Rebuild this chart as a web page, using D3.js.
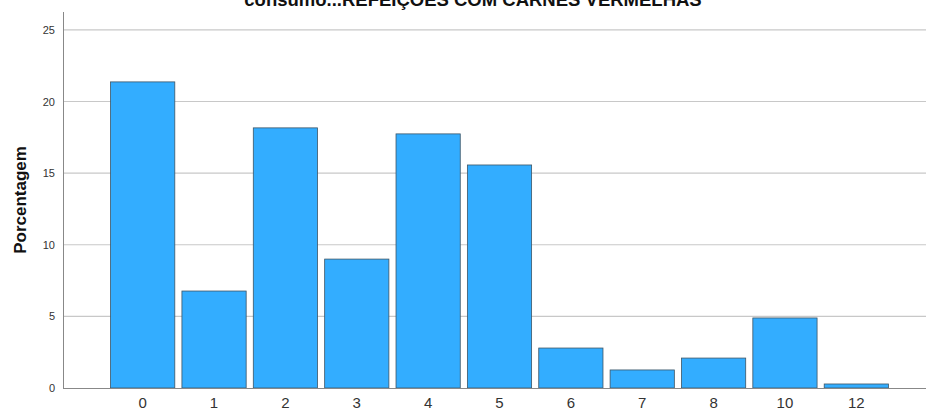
<!DOCTYPE html>
<html><head><meta charset="utf-8">
<script src="https://cdn.jsdelivr.net/npm/d3@7/dist/d3.min.js"></script>
<style>body{margin:0;background:#fff}svg{display:block}</style>
</head><body><svg id="c" width="926" height="414"></svg>
<script>
const categories = ["0","1","2","3","4","5","6","7","8","10","12"];
const percentages = [21.37, 6.77, 18.16, 9.0, 17.74, 15.57, 2.79, 1.26, 2.09, 4.89, 0.28];
const yTicks = [0, 5, 10, 15, 20, 25];
const titleText = "consumo...REFEIÇÕES COM CARNES VERMELHAS";
const yLabel = "Porcentagem";

const svg = d3.select("#c");
const font = "Liberation Sans, Arial, sans-serif";
const x = d3.scaleBand().domain(categories).range([107, 892]).paddingInner(0.1).paddingOuter(0.05);
const y = d3.scaleLinear().domain([0, 26.25]).range([388, 12]);

// gridlines
svg.append("g").selectAll("line").data(yTicks.filter(d => d > 0)).join("line")
  .attr("x1", 63).attr("x2", 926).attr("y1", d => y(d)).attr("y2", d => y(d))
  .attr("stroke", "#c8c8c8").attr("stroke-width", 1.2);

// bars
svg.append("g").selectAll("rect").data(categories).join("rect")
  .attr("x", d => x(d)).attr("width", x.bandwidth())
  .attr("y", (d, i) => y(percentages[i])).attr("height", (d, i) => y(0) - y(percentages[i]))
  .attr("fill", "#33adff").attr("stroke", "#3d5566").attr("stroke-width", 0.8);

// y axis
const ya = svg.append("g").attr("transform", "translate(63,0)")
  .call(d3.axisLeft(y).tickValues(yTicks).tickSize(0).tickPadding(8));
ya.select(".domain").remove();
ya.selectAll("text").attr("font-family", font).attr("font-size", 11).attr("fill", "#333");
svg.append("line").attr("x1", 63.5).attr("x2", 63.5).attr("y1", 12).attr("y2", 388)
  .attr("stroke", "#888").attr("stroke-width", 1);

// x axis
const xa = svg.append("g").attr("transform", "translate(0,388)")
  .call(d3.axisBottom(x).tickSize(0).tickPadding(9));
xa.select(".domain").remove();
xa.selectAll("text").attr("font-family", font).attr("font-size", 15).attr("fill", "#333");
svg.append("line").attr("x1", 63).attr("x2", 926).attr("y1", 388.5).attr("y2", 388.5)
  .attr("stroke", "#888").attr("stroke-width", 1);

// y label
svg.append("text").attr("transform", "translate(26,200) rotate(-90)")
  .attr("text-anchor", "middle").attr("font-family", font).attr("font-size", 17)
  .attr("font-weight", "bold").attr("fill", "#111").text(yLabel);

// title (clipped at top, as in the reference)
svg.append("text").attr("x", 473).attr("y", 6).attr("text-anchor", "middle")
  .attr("font-family", font).attr("font-size", 18.5).attr("font-weight", "bold")
  .attr("fill", "#111").text(titleText);
</script></body></html>
